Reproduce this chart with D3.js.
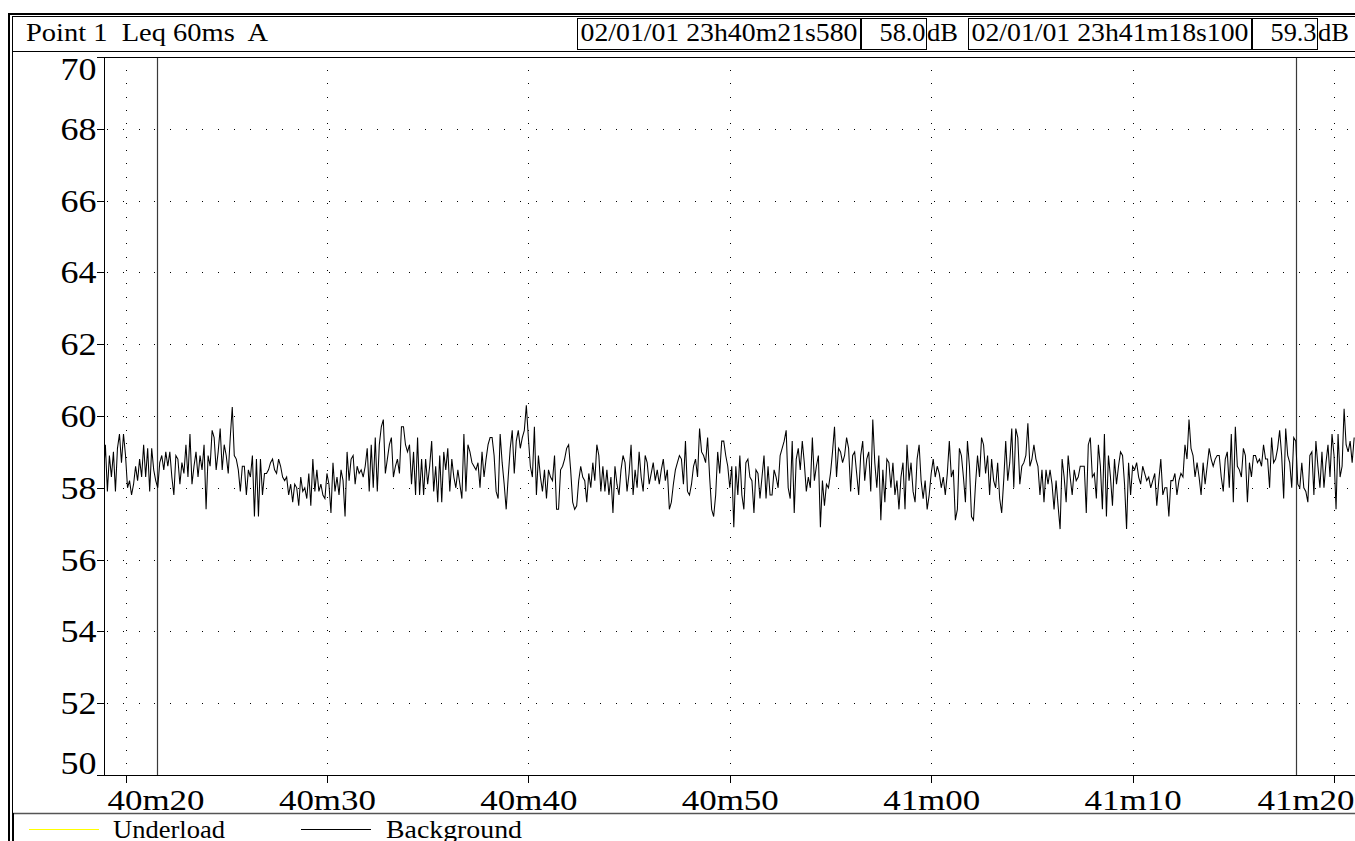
<!DOCTYPE html>
<html>
<head>
<meta charset="utf-8">
<script src="https://cdn.jsdelivr.net/npm/d3@7"></script>
<style>
  html, body { margin: 0; padding: 0; background: #fff; overflow: hidden; }
  svg { display: block; }
  svg text { font-family: "Liberation Serif", "Times New Roman", "DejaVu Serif", serif !important; fill: #000; white-space: pre; }
</style>
</head>
<body>
<svg id="chart" width="1355" height="841"></svg>
<script>
// ---- data -------------------------------------------------------------
const headerTitle = "Point 1  Leq 60ms  A";

// Leq levels in dB(A), one value every 0.1 s starting at 23h40m18s900
const seriesStart = new Date(2001, 0, 2, 23, 40, 18, 900);
const stepMs = 100;
const levels = [
  // 40m18.9 - 40m29.4
  58.3, 59.2, 57.9, 58.9, 58.3, 59.0, 57.9, 59.1, 59.5, 58.7,
  59.5, 58.9, 58.0, 58.2, 57.8, 58.1, 58.6, 58.2, 58.8, 58.3,
  59.2, 58.3, 59.1, 57.9, 59.1, 58.5, 58.2, 58.0, 58.7, 58.9,
  58.5, 59.0, 58.6, 59.0, 58.3, 57.8, 58.9, 58.8, 58.1, 58.7,
  58.4, 59.2, 58.3, 59.5, 58.1, 58.6, 59.0, 58.3, 58.9, 58.5,
  59.2, 57.4, 58.9, 58.6, 59.6, 59.4, 58.5, 59.0, 59.65, 58.5,
  59.2, 58.9, 58.4, 59.4, 60.25, 58.9, 58.8, 58.5, 57.9, 58.6,
  58.6, 57.8, 58.5, 58.3, 58.9, 57.2, 58.8, 57.2, 58.8, 57.8,
  58.4, 58.4, 58.5, 58.7, 58.8, 58.5, 58.4, 58.8, 58.6, 58.3,
  58.2, 58.3, 57.8, 58.1, 57.6, 58.1, 58.0, 57.5, 58.3, 57.9,
  58.0, 57.7, 58.4, 57.5, 58.8, 57.9,
  // 40m29.5 - 40m39.8
  58.5, 57.9, 58.1, 57.8, 57.7, 58.4, 58.1, 57.3, 58.7, 57.9,
  58.3, 57.8, 58.5, 58.2, 57.2, 59.0, 58.2, 58.8, 58.9, 58.1,
  58.6, 58.4, 58.5, 58.3, 58.6, 59.1, 57.9, 59.2, 58.0, 59.4,
  57.9, 59.2, 59.7, 59.9, 58.4, 58.8, 59.2, 59.4, 58.3, 58.6,
  58.8, 58.4, 59.7, 59.7, 59.2, 59.0, 59.2, 58.1, 59.0, 57.8,
  59.4, 57.8, 58.8, 57.8, 58.8, 58.1, 58.6, 59.3, 57.9, 58.6,
  57.6, 58.9, 57.6, 59.0, 58.5, 59.1, 57.9, 58.8, 58.3,
  58.0, 58.5, 58.1, 57.7, 59.5, 57.9, 59.2, 59.0, 58.7, 58.6,
  58.5, 58.7, 58.0, 59.0, 58.3, 58.8, 59.2, 59.4,
  59.4, 58.9, 57.9, 57.7, 59.5, 58.7, 58.1, 57.4, 58.3,
  59.1, 59.6, 58.4, 59.3, 59.6, 59.1, 59.4, 59.6,
  // 40m39.9 - 40m50.2
  60.3, 59.4, 58.6, 58.3, 59.7, 57.8, 58.9, 58.3, 57.9, 58.5,
  57.7, 58.5, 58.3, 58.2, 58.9, 57.4, 57.4, 58.5, 58.6, 58.8,
  59.1, 59.2, 58.5, 57.6, 57.4, 57.5, 58.2, 58.6, 58.3, 58.2,
  57.6, 58.4, 58.0, 58.7, 58.2, 59.2, 58.9, 57.9, 58.6, 57.9,
  58.5, 57.8, 58.3, 57.3, 58.6, 58.1, 57.8, 58.5, 58.9, 58.7,
  57.9, 58.4, 59.2, 57.8, 58.5, 58.0, 59.0, 58.3, 57.9, 58.9,
  58.7, 58.1, 58.4, 58.7, 58.2, 58.5, 58.1, 58.5, 58.8, 58.2,
  58.5, 57.4, 57.6, 58.1, 58.5, 58.7, 58.9, 58.8, 58.1, 59.3,
  57.9, 57.8, 58.1, 58.6, 58.8, 58.3, 59.65, 59.0, 58.9, 58.7,
  59.4, 58.3, 57.4, 57.2, 57.8, 59.0, 58.4, 59.3, 59.3, 58.9,
  58.6, 58.0, 58.6, 56.9,
  // 40m50.3 - 41m00.7
  58.6, 57.8, 58.9, 57.8, 57.4, 58.7, 58.8, 58.3, 58.2, 57.3,
  58.5, 58.4, 57.7, 58.3, 58.9, 57.7, 58.6, 57.8, 57.8, 58.5,
  58.3, 58.0, 58.9, 59.1, 59.3, 59.6, 58.0, 57.7, 59.3, 57.3,
  58.8, 59.1, 58.5, 59.3, 58.7, 57.9, 58.3, 58.0, 59.4, 58.2,
  58.6, 58.9, 56.9, 58.2, 57.5, 58.1, 58.0, 58.4, 59.0, 59.7,
  58.3, 59.1, 59.0, 58.7, 58.9, 59.4, 59.1, 57.9, 58.9, 59.0,
  58.4, 57.8, 58.9, 59.3, 58.2, 58.8, 59.0, 57.9, 59.9, 58.7,
  58.0, 58.9, 57.1, 58.5, 57.6, 58.8, 58.7, 58.0, 58.7, 57.8,
  58.2, 57.4, 58.3, 58.7, 57.4, 59.2, 58.2, 58.7, 57.9, 57.6,
  58.8, 59.2, 58.2, 57.7, 58.2, 57.4, 57.8, 58.4, 58.8, 58.3,
  58.6, 58.4, 58.0, 58.3, 57.8,
  // 41m00.8 - 41m10.9
  58.4, 59.3, 58.3, 58.5, 57.1, 57.4, 59.1, 58.9, 58.3, 57.6,
  59.3, 58.6, 57.2, 57.1, 58.1, 58.9, 58.3, 59.4, 59.2, 58.4,
  58.9, 57.8, 58.8, 58.2, 58.0, 58.7, 57.7, 57.3, 58.2, 59.3,
  58.2, 58.7, 59.65, 58.0, 59.65, 59.4, 58.1, 58.6, 58.7, 58.9,
  59.8, 58.6, 58.8, 59.2, 58.8, 58.6, 57.8, 58.5, 57.6, 58.5,
  58.1, 58.5, 58.1, 57.4, 58.2, 57.5, 56.85, 58.8, 58.3, 57.6,
  58.9, 58.3, 57.8, 58.5, 58.2, 58.3, 58.6, 58.6, 58.6, 57.3,
  59.2, 59.4, 58.3, 58.4, 57.7, 59.2, 58.6, 57.4, 59.5, 57.2,
  58.9, 58.3, 57.5, 58.8, 58.1, 58.6, 59.0, 58.9, 58.1, 56.85,
  58.7, 57.8, 58.6, 58.5, 58.7, 58.3, 58.1, 58.6, 58.4, 58.2,
  58.3, 58.0,
  // 41m11.0 - 41m21.0
  58.2, 58.4, 57.5, 58.2, 58.8, 57.8, 58.0, 58.0, 57.2, 58.2,
  58.2, 58.4, 57.8, 58.2, 58.4, 58.3, 59.2, 58.8, 59.9, 59.1,
  58.9, 58.3, 58.7, 58.3, 57.8, 58.7, 58.1, 58.6, 59.1, 58.8,
  58.6, 58.8, 58.9, 58.9, 58.3, 57.9, 58.8, 59.0, 58.0, 59.5,
  57.6, 59.7, 58.6, 58.5, 58.3, 59.1, 58.9, 57.6, 58.7, 58.3,
  58.9, 58.9, 58.7, 58.8, 58.6, 59.2, 58.8, 58.8, 58.0, 59.4,
  58.7, 58.8, 59.1, 59.6, 58.9, 57.7, 59.65, 58.9, 58.7, 58.0,
  59.4, 59.3, 58.1, 58.0, 58.7, 58.0, 57.9, 57.6, 58.9, 59.0,
  57.8, 59.3, 58.6, 58.0, 59.0, 58.0, 58.7, 59.2, 58.3, 59.5,
  58.9, 57.4, 59.5, 58.3, 58.6, 60.2, 59.2, 59.0, 59.3, 58.7,
  59.4
];

const yTicks = [50, 52, 54, 56, 58, 60, 62, 64, 66, 68, 70];

// measurement cursors
const cursorTimes  = [new Date(2001, 0, 2, 23, 40, 21, 580), new Date(2001, 0, 2, 23, 41, 18, 100)];
const cursorStamps = ["02/01/01 23h40m21s580", "02/01/01 23h41m18s100"];
const cursorLevels = [58.0, 59.3];

const legendNames  = ["Underload", "Background"];
const legendColors = ["#ffff00", "#000000"];

// ---- layout -----------------------------------------------------------
const W = 1355, H = 841;
const FONT = '"Liberation Serif", "Times New Roman", "DejaVu Serif", serif';
const plot = { left: 104, top: 57, right: 1358, bottom: 775 };
const svg = d3.select("#chart").attr("font-family", FONT);
const crisp = v => Math.round(v) + 0.5;

svg.append("rect").attr("width", W).attr("height", H).attr("fill", "#fff");

const x = d3.scaleTime()
  .domain([new Date(2001, 0, 2, 23, 40, 18, 932), new Date(2001, 0, 2, 23, 41, 21, 190)])
  .range([plot.left, plot.right]);
const y = d3.scaleLinear().domain([50, 70]).range([plot.bottom, plot.top]);

const tenSeconds = d3.timeSecond.every(10);
const xTicks = x.ticks(tenSeconds);
const fmtTime = d => `${d.getMinutes()}m${String(d.getSeconds()).padStart(2, "0")}`;

// ---- dotted grid ------------------------------------------------------
const grid = svg.append("g").attr("stroke", "#000").attr("stroke-width", 1)
  .attr("shape-rendering", "crispEdges");
grid.selectAll("line.h")
  .data(yTicks.filter(v => v > 50 && v < 70))
  .join("line")
  .attr("class", "h")
  .attr("x1", plot.left + 2.7).attr("x2", W)
  .attr("y1", d => crisp(y(d))).attr("y2", d => crisp(y(d)))
  .attr("stroke-dasharray", "1 14.9");
grid.selectAll("line.v")
  .data(xTicks)
  .join("line")
  .attr("class", "v")
  .attr("x1", d => crisp(x(d))).attr("x2", d => crisp(x(d)))
  .attr("y1", plot.top + 13).attr("y2", plot.bottom)
  .attr("stroke-dasharray", "1 12.33");

// ---- cursors ----------------------------------------------------------
svg.append("g").selectAll("line")
  .data(cursorTimes)
  .join("line")
  .attr("x1", d => crisp(x(d))).attr("x2", d => crisp(x(d)))
  .attr("y1", plot.top).attr("y2", plot.bottom)
  .attr("stroke", "#3a3a3a").attr("stroke-width", 1.2);

// ---- level trace ------------------------------------------------------
svg.append("clipPath").attr("id", "plotClip")
  .append("rect")
  .attr("x", plot.left + 0.5).attr("y", plot.top)
  .attr("width", plot.right - plot.left).attr("height", plot.bottom - plot.top);

const line = d3.line()
  .x((d, i) => x(new Date(+seriesStart + i * stepMs)))
  .y(d => y(d));
svg.append("path")
  .datum(levels)
  .attr("clip-path", "url(#plotClip)")
  .attr("fill", "none")
  .attr("stroke", "#000")
  .attr("stroke-width", 1.05)
  .attr("d", line);

// ---- plot frame -------------------------------------------------------
svg.append("path")
  .attr("d", `M${W},${plot.top + 0.5}H${plot.left + 0.5}V${plot.bottom + 0.5}H${W}`)
  .attr("fill", "none").attr("stroke", "#000").attr("stroke-width", 1)
  .attr("shape-rendering", "crispEdges");

// ---- axes -------------------------------------------------------------
const gx = svg.append("g")
  .attr("transform", `translate(0,${plot.bottom})`)
  .call(d3.axisBottom(x).ticks(tenSeconds).tickFormat(fmtTime).tickSizeInner(8).tickSizeOuter(0));
gx.attr("font-family", FONT).attr("font-size", 30);
gx.select(".domain").remove();
gx.selectAll(".tick line").attr("stroke", "#000").attr("shape-rendering", "crispEdges");
const xLabelW = 97;
gx.selectAll(".tick text")
  .attr("font-family", FONT)
  .attr("font-size", 30)
  .attr("text-anchor", "start")
  .attr("dy", null)
  .attr("y", 35)
  .attr("textLength", xLabelW)
  .attr("lengthAdjust", "spacingAndGlyphs")
  .attr("x", function (d) {
    const cx = x(d);
    let left = cx - xLabelW / 2;
    if (left < plot.left + 3) left = plot.left + 3;
    if (left + xLabelW > W - 1) left = W - 1 - xLabelW;
    return left - cx;
  });

const gy = svg.append("g")
  .attr("transform", `translate(${plot.left},0)`)
  .call(d3.axisLeft(y).tickValues(yTicks).tickFormat(d3.format("d")).tickSizeInner(7).tickSizeOuter(0));
gy.attr("font-family", FONT).attr("font-size", 31);
gy.select(".domain").remove();
gy.selectAll(".tick line").attr("stroke", "#000").attr("shape-rendering", "crispEdges");
const yLabelW = 36;
gy.selectAll(".tick text")
  .attr("font-family", FONT)
  .attr("font-size", 31)
  .attr("text-anchor", "start")
  .attr("dy", null)
  .attr("x", -7.5 - yLabelW)
  .attr("textLength", yLabelW)
  .attr("lengthAdjust", "spacingAndGlyphs")
  .attr("y", d => d === 70 ? 22 : d === 50 ? -2 : 10.5);

// ---- header -----------------------------------------------------------
const header = svg.append("g").attr("font-family", FONT);
header.append("text")
  .attr("x", 26).attr("y", 41)
  .attr("font-size", 26)
  .attr("textLength", 242).attr("lengthAdjust", "spacingAndGlyphs")
  .text(headerTitle);

const stampBoxX = [577.5, 968.5];
const stampBoxW = 282.5;
const levelBoxW = 64.5;
cursorStamps.forEach((stamp, i) => {
  const bx = stampBoxX[i];
  const lx = bx + stampBoxW + 1.5;
  header.append("rect")
    .attr("x", bx).attr("y", 18.5).attr("width", stampBoxW).attr("height", 31)
    .attr("fill", "none").attr("stroke", "#000").attr("stroke-width", 1)
    .attr("shape-rendering", "crispEdges");
  header.append("rect")
    .attr("x", lx).attr("y", 18.5).attr("width", levelBoxW).attr("height", 31)
    .attr("fill", "none").attr("stroke", "#000").attr("stroke-width", 1)
    .attr("shape-rendering", "crispEdges");
  header.append("text")
    .attr("x", bx + 3).attr("y", 40.5)
    .attr("font-size", 26)
    .attr("textLength", 277).attr("lengthAdjust", "spacingAndGlyphs")
    .text(stamp);
  header.append("text")
    .attr("x", lx + levelBoxW - 46.5).attr("y", 40.5)
    .attr("font-size", 26)
    .attr("textLength", 46).attr("lengthAdjust", "spacingAndGlyphs")
    .text(cursorLevels[i].toFixed(1));
  header.append("text")
    .attr("x", lx + levelBoxW + 1).attr("y", 40.5)
    .attr("font-size", 26)
    .attr("textLength", 31).attr("lengthAdjust", "spacingAndGlyphs")
    .text("dB");
});

// ---- legend -----------------------------------------------------------
const legend = svg.append("g").attr("font-family", FONT);
legend.append("line")
  .attr("x1", 12).attr("x2", W).attr("y1", 813.5).attr("y2", 813.5)
  .attr("stroke", "#555").attr("stroke-width", 1.5);
legend.append("line")
  .attr("x1", 13.5).attr("x2", 13.5).attr("y1", 813).attr("y2", H)
  .attr("stroke", "#000").attr("stroke-width", 1);
const legendSwatchX = [29, 301];
const legendTextX = [113, 386];
const legendTextW = [112, 136];
legendNames.forEach((name, i) => {
  legend.append("line")
    .attr("x1", legendSwatchX[i]).attr("x2", legendSwatchX[i] + 70)
    .attr("y1", 829.5).attr("y2", 829.5)
    .attr("stroke", legendColors[i]).attr("stroke-width", 1)
    .attr("shape-rendering", "crispEdges");
  legend.append("text")
    .attr("x", legendTextX[i]).attr("y", 837.5)
    .attr("font-size", 25)
    .attr("textLength", legendTextW[i]).attr("lengthAdjust", "spacingAndGlyphs")
    .text(name);
});

// ---- outer frame ------------------------------------------------------
const frame = svg.append("g").attr("stroke", "#000").attr("fill", "none")
  .attr("shape-rendering", "crispEdges");
frame.append("line").attr("x1", 8).attr("x2", W).attr("y1", 13.5).attr("y2", 13.5).attr("stroke-width", 2);
frame.append("line").attr("x1", 12).attr("x2", W).attr("y1", 16.5).attr("y2", 16.5).attr("stroke-width", 1);
frame.append("line").attr("x1", 9).attr("x2", 9).attr("y1", 12.5).attr("y2", H).attr("stroke-width", 2);
frame.append("line").attr("x1", 12.5).attr("x2", 12.5).attr("y1", 16).attr("y2", H).attr("stroke-width", 1);
frame.append("line").attr("x1", 12).attr("x2", W).attr("y1", 51.5).attr("y2", 51.5).attr("stroke-width", 1.5);
</script>
</body>
</html>
